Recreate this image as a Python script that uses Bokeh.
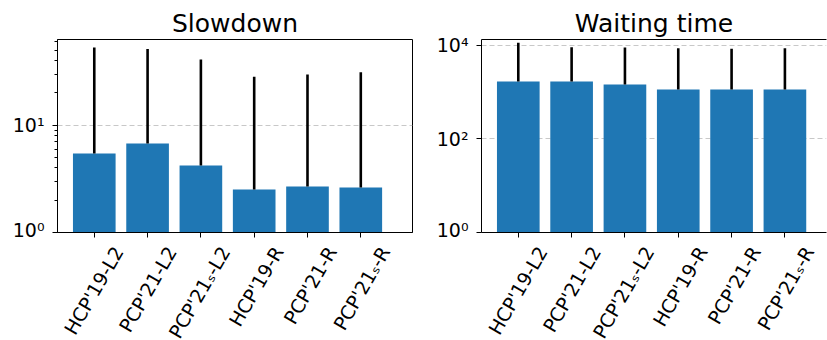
import math
from bokeh.plotting import figure
from bokeh.layouts import row, column
from bokeh.models import (FixedTicker, ColumnDataSource, Range1d, LinearAxis,
                          BasicTickFormatter)
from bokeh.core.properties import value
from bokeh.embed import file_html
from bokeh.resources import INLINE

# ---- data ----
categories = ["HCP'19-L2", "PCP'21-L2", "PCP'21ₛ-L2", "HCP'19-R", "PCP'21-R", "PCP'21ₛ-R"]
slowdown_mean = [5.45, 6.75, 4.21, 2.52, 2.68, 2.63]
slowdown_upper = [53.0, 51.5, 41.0, 28.3, 29.7, 31.2]
wait_mean = [1700, 1700, 1465, 1145, 1145, 1145]
wait_upper = [11400, 9200, 9060, 8750, 8510, 8750]

slowdown_ticks = [1, 10]
slowdown_tick_labels = ["10⁰", "10¹"]
slowdown_minor = [2, 3, 4, 5, 6, 7, 8, 9, 20, 30, 40, 50, 60]
wait_ticks = [1, 100, 10000]
wait_tick_labels = ["10⁰", "10²", "10⁴"]

FONT = "DejaVu Sans"
BAR = "#1f77b4"


def panel(title, mean, upper, y_end, ticks, tick_labels, minor, x_end,
          width, bl, br, outline):
    idx = list(range(len(categories)))
    xr = Range1d(-0.69, x_end)
    p = figure(width=width, height=240, y_axis_type="log",
               x_range=xr, y_range=Range1d(1, y_end),
               output_backend="svg", toolbar_location=None,
               min_border_left=bl, min_border_right=br,
               min_border_top=39, min_border_bottom=8, title=title)
    p.title.align = "center"
    p.title.text_font = FONT
    p.title.text_font_size = "25px"
    p.title.text_font_style = "normal"
    p.title.text_color = "black"
    p.title.standoff = 3

    src = ColumnDataSource(dict(x=idx, mean=mean, upper=upper,
                                base=[1] * len(idx)))
    p.vbar(x="x", top="mean", bottom="base", width=0.8, source=src,
           fill_color=BAR, line_color=None)
    p.segment(x0="x", y0="mean", x1="x", y1="upper", source=src,
              line_color="black", line_width=2.6)

    p.xgrid.visible = False
    p.ygrid.ticker = FixedTicker(ticks=ticks)
    p.ygrid.grid_line_color = "#c8c8c8"
    p.ygrid.grid_line_dash = "5 3"
    p.ygrid.grid_line_width = 1

    ya = p.yaxis[0]
    ya.ticker = FixedTicker(ticks=ticks, minor_ticks=minor)
    ya.formatter = BasicTickFormatter()
    ya.major_label_overrides = dict(zip(ticks, tick_labels))
    ya.major_label_text_font = FONT
    ya.major_label_text_font_size = "19px"
    ya.major_label_text_color = "black"
    ya.major_tick_out = 5
    ya.major_tick_in = 0
    ya.minor_tick_out = 3
    ya.minor_tick_in = 0
    ya.major_label_standoff = 8
    ya.axis_line_color = "black"
    ya.major_tick_line_color = "black"
    ya.minor_tick_line_color = "black"

    xa = p.xaxis[0]
    xa.ticker = FixedTicker(ticks=idx)
    xa.major_label_overrides = {i: "" for i in idx}
    xa.major_label_text_font_size = "1px"
    xa.major_label_standoff = 0
    xa.major_tick_out = 5
    xa.major_tick_in = 0
    xa.minor_tick_line_color = None
    xa.axis_line_color = "black"
    xa.major_tick_line_color = "black"

    if outline:
        p.outline_line_color = "black"
        p.outline_line_width = 1
    else:
        p.outline_line_color = None
        top = LinearAxis(ticker=FixedTicker(ticks=[]), axis_line_color="black",
                         major_tick_line_color=None, minor_tick_line_color=None,
                         major_tick_out=0, minor_tick_out=0,
                         major_label_text_font_size="1px",
                         major_label_standoff=0)
        p.add_layout(top, "above")

    # strip below the panel holding the rotated category labels
    lab = figure(width=width, height=100, x_range=xr, y_range=Range1d(0, 1),
                 output_backend="svg", toolbar_location=None,
                 x_axis_location=None, y_axis_location=None,
                 min_border_left=bl, min_border_right=br,
                 min_border_top=0, min_border_bottom=0)
    lab.outline_line_color = None
    lab.grid.visible = False
    lab.text(x=idx, y=[1] * len(idx), text=categories, angle=math.pi / 3,
             text_align="right", text_baseline="middle",
             x_offset=24, y_offset=7.5,
             text_font=value(FONT), text_font_size=value("19px"),
             text_color="black")
    return column(p, lab)


p1 = panel("Slowdown", slowdown_mean, slowdown_upper, 63, slowdown_ticks,
           slowdown_tick_labels, slowdown_minor, 5.97, 432, 57, 20, True)
p2 = panel("Waiting time", wait_mean, wait_upper, 13400, wait_ticks,
           wait_tick_labels, [], 5.78, 395, 49, 1, False)

layout = row(p1, p2)
open("out.html", "w").write(file_html(layout, INLINE))
